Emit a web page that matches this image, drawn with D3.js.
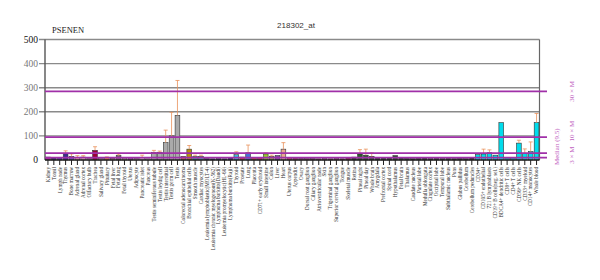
<!DOCTYPE html>
<html><head><meta charset="utf-8">
<script src="https://cdn.jsdelivr.net/npm/d3@7"></script>
<style>body{margin:0;background:#fff}svg{display:block}</style>
</head><body><svg id="c" width="600" height="280"></svg>
<script>
const tissues = ["Kidney","Tonsil","Lymph node","Thymus","Bone marrow","Adrenal gland","Adrenal cortex","Olfactory bulb","Trachea","Salivary gland","Pituitary","Fetal liver","Fetal lung","Fetal thyroid","Uterus","Adipocyte","Pancreatic islet","Pancreas","Testis seminiferous tubule","Testis leydig cell","Testis interstitial","Testis germ cell","Testis","Colorectal adenocarcinoma","Bronchial epithelial cells","Smooth muscle","Cardiac myocytes","Leukemia lymphoblastic(MOLT-4)","Leukemia chronic myelogenous(K-562)","Lymphoma burkitts(Daudi)","Leukemia promyelocytic(HL-60)","Lymphoma burkitts(Raji)","Thyroid","Prostate","Lung","Placenta","CD71+ early erythroid","Small intestine","Colon","Liver","Heart","Uterus corpus","Appendix","Ovary","Dorsal root ganglion","Ciliary ganglion","Atrioventricular node","Skin","Trigeminal ganglion","Superior cervical ganglion","Tongue","Skeletal muscle","Retina","Pineal night","Pineal day","Whole brain","Amygdala","Prefrontal cortex","Spinal cord","Hypothalamus","Fetal brain","Thalamus","Caudate nucleus","Parietal lobe","Medulla oblongata","Cingulate cortex","Occipital lobe","Temporal lobe","Subthalamic nucleus","Pons","Globus pallidus","Cerebellum","Cerebellum peduncles","CD34+","CD105+ endothelial","721 B lymphoblasts","CD19+ B cells(neg. sel.)","BDCA4+ dendritic cells","CD8+ T cells","CD4+ T cells","CD56+ NK cells","CD33+ myeloid","CD14+ monocytes","Whole blood"];
const values = [12,8,10,28,15,10,12,6,40,6,10,7,18,8,10,7,10,5,32,32,72,100,185,15,45,15,15,6,5,6,5,8,22,12,30,10,10,25,15,18,45,10,8,7,6,6,5,6,5,6,5,8,12,25,20,15,8,8,10,18,8,7,6,7,8,6,7,6,7,6,7,6,10,22,25,30,20,155,8,8,70,28,35,155];
const sd = [0,0,0,10,10,8,6,0,15,0,3,0,6,0,0,0,10,0,8,5,52,98,145,0,15,5,5,0,0,0,0,0,12,0,32,0,0,5,5,0,27,0,0,0,0,0,0,0,0,0,0,0,0,18,25,15,0,0,0,0,0,0,0,0,0,0,0,0,0,0,0,0,0,0,20,12,0,0,0,0,12,18,40,38];
const yTicks = [0,100,200,300,400,500];
const median = 9.5;
const multiples = [1,3,10,30];
const multLabels = ["Median (9.5)","3 × M","10 × M","30 × M"];
const geneName = "PSENEN", probe = "218302_at";

const barColors = ["#b0289a","#2a2a7a","#4a3a9a","#3c2c8c","#6a5ac0","#e8b0a0","#e8c0b0","#c0a0b0","#9a0038","#e0a0b0","#f08838","#c09080","#7a6070","#c0a0a0","#9a4aa0","#e0a0c0","#d8b0c0","#e0c0c0",
"#aaaaaa","#aaaaaa","#aaaaaa","#aaaaaa","#aaaaaa","#d07030","#b8900a","#30a0a0","#40a0b0","#1a1a7a","#1a1a80","#20207a","#1a1a80","#20207a","#40b8e0","#d03040","#4870d8","#d04040","#c03050","#98c830","#a0b040","#7a4aa0","#e8a890","#c04060","#c03070","#b04080","#a03060","#903060","#a03050","#a04070","#903050","#a03060","#b03050","#a02040",
"#204020","#2a5a2a","#2a5a2a","#2a5a2a","#204a20","#204a20","#204a20","#2a4a2a","#204020","#1a3a1a","#1a3a1a","#1a3a1a","#1a3a1a","#1a3a1a","#1a3a1a","#1a3a1a","#1a3a1a","#1a3a1a","#1a3a1a","#1a3a1a","#1a3a1a",
"#00dcec","#00dcec","#00dcec","#00dcec","#00dcec","#00dcec","#00dcec","#00dcec","#00dcec","#00dcec","#00dcec"];

const svg = d3.select("#c");
const L = 45, R = 539.5, T = 39.5, B = 160;
const x = d3.scaleBand().domain(tissues).range([L, R]).paddingInner(0.2).paddingOuter(0.1);
const y = d3.scaleLinear().domain([0, 500]).range([B, T]);
const color = d3.scaleOrdinal().domain(tissues).range(barColors);

// grid
svg.append("g").selectAll("line").data(yTicks.filter(d => d > 0)).join("line")
  .attr("x1", L - 6).attr("x2", R).attr("y1", d => y(d)).attr("y2", d => y(d))
  .attr("stroke", "#8a8a8a").attr("stroke-width", 1.4);
svg.append("line").attr("x1", R).attr("x2", R).attr("y1", T).attr("y2", B).attr("stroke", "#666").attr("stroke-width", 1.2);
svg.append("line").attr("x1", L).attr("x2", L).attr("y1", T).attr("y2", B).attr("stroke", "#555").attr("stroke-width", 1.4);

// y labels
svg.append("g").selectAll("text").data(yTicks).join("text")
  .attr("x", L - 7).attr("y", d => y(d)).attr("dy", "0.35em").attr("text-anchor", "end")
  .attr("font-family", "Liberation Serif, serif").attr("font-size", 9.5)
  .attr("fill", d => (d === 0 || d === 500) ? "#111" : "#777").text(d => d);

// bars
const data = tissues.map((t, i) => ({ t, v: values[i], sd: sd[i] }));
svg.append("g").selectAll("rect").data(data).join("rect")
  .attr("x", d => x(d.t)).attr("width", x.bandwidth())
  .attr("y", d => y(d.v)).attr("height", d => y(0) - y(d.v))
  .attr("fill", d => color(d.t)).attr("stroke", "#333").attr("stroke-width", 0.6);

// error bars
const eb = svg.append("g").attr("stroke", "#e8905a").attr("stroke-width", 0.8);
data.filter(d => d.sd > 0).forEach(d => {
  const cx = x(d.t) + x.bandwidth() / 2;
  eb.append("line").attr("x1", cx).attr("x2", cx).attr("y1", y(d.v)).attr("y2", y(d.v + d.sd));
  eb.append("line").attr("x1", cx - 2).attr("x2", cx + 2).attr("y1", y(d.v + d.sd)).attr("y2", y(d.v + d.sd));
});

// median lines
svg.append("g").selectAll("line").data(multiples).join("line")
  .attr("x1", L).attr("x2", 547).attr("y1", d => y(d * median)).attr("y2", d => y(d * median))
  .attr("stroke", "#a030a8").attr("stroke-width", 1.8);

// x axis
svg.append("line").attr("x1", L).attr("x2", R).attr("y1", B).attr("y2", B).attr("stroke", "#222").attr("stroke-width", 1.5);
svg.append("g").selectAll("line").data(tissues).join("line")
  .attr("x1", d => x(d) + x.bandwidth() / 2).attr("x2", d => x(d) + x.bandwidth() / 2)
  .attr("y1", B).attr("y2", B + 5).attr("stroke", "#222").attr("stroke-width", 1);
svg.append("g").selectAll("text").data(tissues).join("text")
  .attr("transform", d => `translate(${x(d) + x.bandwidth() / 2},${B + 7}) rotate(-90)`)
  .attr("text-anchor", "end").attr("dy", "0.35em")
  .attr("font-family", "Liberation Serif, serif").attr("font-size", 5.2).attr("fill", "#333").text(d => d);

// right labels
const rl = [
  { t: multLabels[0], x: 557, y: y(median) - 11 },
  { t: multLabels[1], x: 572, y: y(3 * median) + 2 },
  { t: multLabels[2], x: 572, y: y(10 * median) - 6 },
  { t: multLabels[3], x: 572, y: y(30 * median) }
];
svg.append("g").selectAll("text").data(rl).join("text")
  .attr("transform", d => `translate(${d.x},${d.y}) rotate(-90)`)
  .attr("text-anchor", "middle").attr("dy", "0.35em")
  .attr("font-family", "Liberation Serif, serif").attr("font-size", 7).attr("fill", "#c060c0").text(d => d.t);

// titles
svg.append("text").attr("x", 296).attr("y", 28).attr("text-anchor", "middle")
  .attr("font-family", "Liberation Sans, Arial, sans-serif").attr("font-size", 8).attr("fill", "#333").text(probe);
svg.append("text").attr("x", 52).attr("y", 33)
  .attr("font-family", "Liberation Serif, serif").attr("font-size", 8.5).attr("fill", "#222").text(geneName);
</script></body></html>
